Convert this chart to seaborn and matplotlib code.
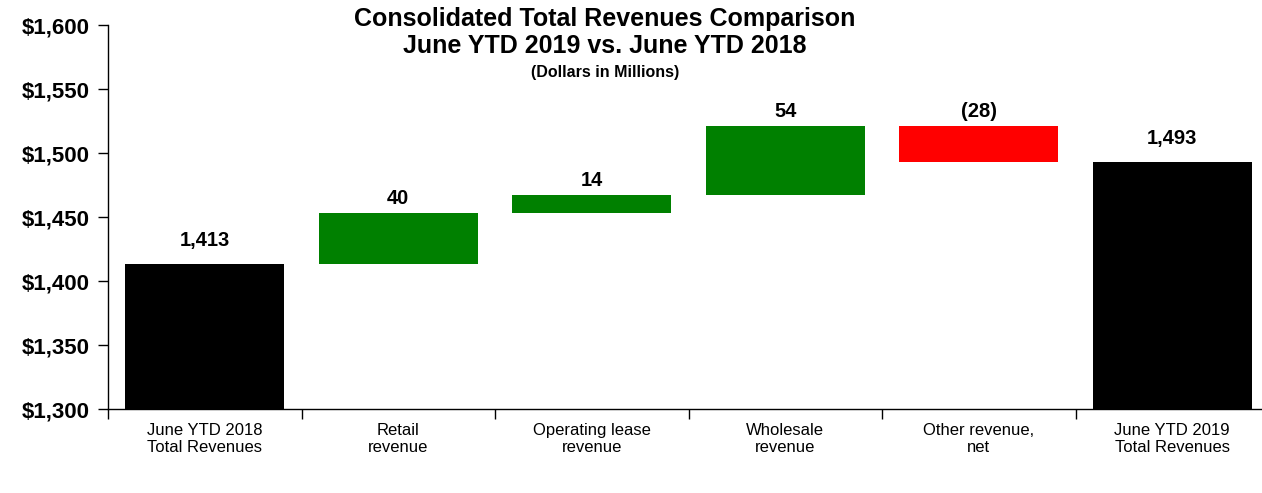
import matplotlib
matplotlib.use("Agg")
import matplotlib.pyplot as plt
import seaborn as sns
import pandas as pd
import numpy as np
from matplotlib.ticker import FixedLocator, FuncFormatter

categories = ["June YTD 2018\nTotal Revenues", "Retail\nrevenue", "Operating lease\nrevenue",
              "Wholesale\nrevenue", "Other revenue,\nnet", "June YTD 2019\nTotal Revenues"]
changes = [1413, 40, 14, 54, -28, 1493]
kinds = ["total", "increase", "increase", "increase", "decrease", "total"]
value_labels = ["1,413", "40", "14", "54", "(28)", "1,493"]
yticks = [1300, 1350, 1400, 1450, 1500, 1550, 1600]

palette = {"total": "#000000", "increase": "#008000", "decrease": "#FF0000"}

# waterfall tops / bottoms
tops, bottoms = [], []
running = 0
for c, k in zip(changes, kinds):
    if k == "total":
        running = c
        tops.append(c); bottoms.append(0)
    else:
        new = running + c
        tops.append(max(running, new)); bottoms.append(min(running, new))
        running = new

df = pd.DataFrame({"category": categories, "top": tops, "bottom": bottoms, "kind": kinds})

sns.set_style("white")
plt.rcParams["font.family"] = ["Liberation Sans", "DejaVu Sans"]
plt.rcParams.update({"text.color": "black", "xtick.color": "black", "ytick.color": "black",
                     "axes.labelcolor": "black"})

fig = plt.figure(figsize=(12.62, 4.93), dpi=100)
ax = fig.add_axes([108/1262, 1 - 409/493, 1 - 108/1262, (409 - 25)/493])

sns.barplot(data=df, x="category", y="top", hue="kind", palette=palette, dodge=False,
            width=0.82, linewidth=0, legend=False, ax=ax, saturation=1)
sns.barplot(data=df, x="category", y="bottom", color="white", width=0.84, linewidth=0,
            ax=ax, saturation=1)

ax.set_ylim(1300, 1600)
ax.set_xlim(-0.5, -0.5 + 1154/193.5)
ax.yaxis.set_major_locator(FixedLocator(yticks))
ax.yaxis.set_major_formatter(FuncFormatter(lambda v, p: f"${v:,.0f}"))
for lab in ax.get_yticklabels():
    lab.set_fontweight("bold")
ax.tick_params(axis="y", labelsize=16, length=7, width=1, direction="out", left=True, pad=6,
               colors="black")
ax.tick_params(axis="x", which="major", length=0, labelsize=12, pad=10, labelcolor="black")
ax.set_xticks(np.arange(0, 6) - 0.5, minor=True)
ax.tick_params(axis="x", which="minor", length=7, width=1, direction="out", bottom=True, color="black")
ax.set_xlabel(""); ax.set_ylabel("")

for s in ["top", "right"]:
    ax.spines[s].set_visible(False)
for s in ["left", "bottom"]:
    ax.spines[s].set_color("black")
    ax.spines[s].set_linewidth(1)

for i, (t, k, lab) in enumerate(zip(tops, kinds, value_labels)):
    off = 11 if k == "total" else 4
    ax.text(i, t + off, lab, ha="center", va="bottom", fontsize=14.5, fontweight="bold", color="black")

fig.text(605/1262, 1 - 19/493, "Consolidated Total Revenues Comparison", ha="center", va="center",
         fontsize=18, fontweight="bold", color="black")
fig.text(605/1262, 1 - 46/493, "June YTD 2019 vs. June YTD 2018", ha="center", va="center",
         fontsize=18, fontweight="bold", color="black")
fig.text(605/1262, 1 - 72/493, "(Dollars in Millions)", ha="center", va="center",
         fontsize=11.5, fontweight="bold", color="black")

fig.savefig("out.png", dpi=100)
